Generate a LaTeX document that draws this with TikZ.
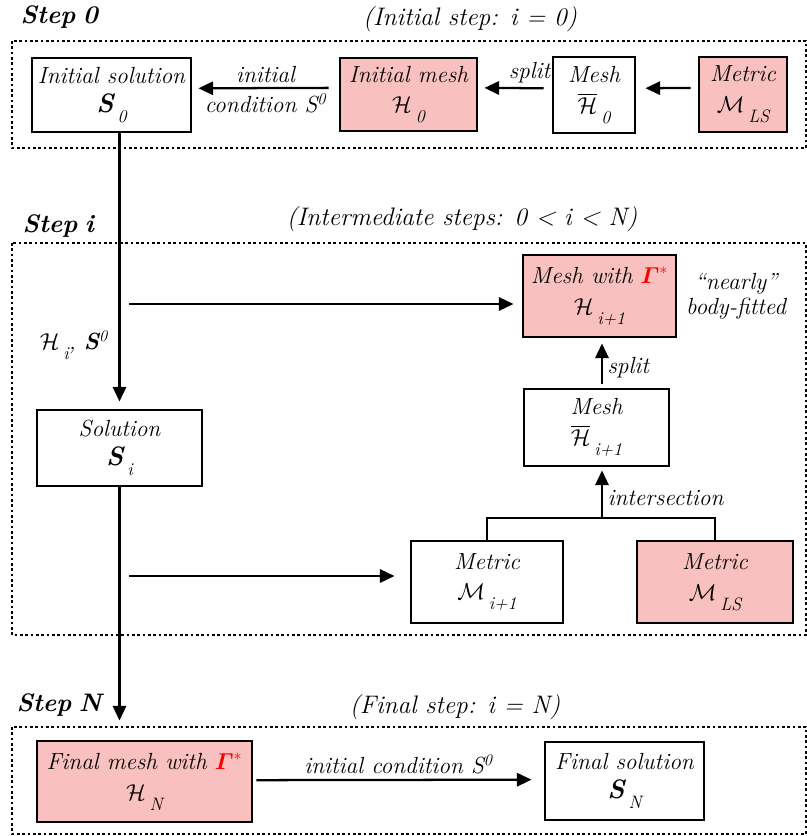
\documentclass[tikz,border=0pt]{standalone}
\usepackage{amsmath}
\usetikzlibrary{arrows.meta}

\definecolor{meshpink}{RGB}{248,192,190}
\newdimen\px \px=0.75pt
\newcommand\low[1]{\,\raisebox{-1ex}{\fontsize{13.5}{14}\selectfont #1}}
\newcommand\bigS{{\fontsize{20}{20}\selectfont\bfseries S}}

\begin{document}
\begin{tikzpicture}[x = 0.75pt, y = -0.75pt,
  box/.style = {draw = black, line width = 2.2pt, fill = white, align = center, inner sep = 0pt, font = \itshape\fontsize{17.5}{19}\selectfont},
  pinkbox/.style = {box, fill = meshpink},
  arr/.style = {line width = 1.7pt, -{Triangle[length = 11pt, width = 10pt]}},
  wire/.style = {line width = 1.5pt},
  frame/.style = {line width = 2pt, dash pattern = on 2pt off 2pt},
  steptitle/.style = {font = \itshape\fontsize{19}{21}\selectfont},
  stepname/.style = {anchor = west, font = \bfseries\itshape\fontsize{19}{21}\selectfont},
  lbl/.style = {font = \itshape\fontsize{17.5}{19}\selectfont}]

\useasboundingbox (0, 0) rectangle (807, 836);

\node[stepname] (name0) at (16, 17) {Step\hspace{0.3em}0};
\node[steptitle] (title0) at (470, 19) {(Initial step: i = 0)};
\node[stepname] (namei) at (18, 226) {Step\hspace{0.3em}i};
\node[steptitle] (titlei) at (462, 219) {(Intermediate steps: 0 < i < N)};
\node[stepname] (nameN) at (12, 705) {Step\hspace{0.3em}N};
\node[steptitle] (titleN) at (455, 707) {(Final step: i = N)};

\draw[frame] (12, 41)  rectangle (806, 148);
\draw[frame] (12, 243) rectangle (806, 635);
\draw[frame] (12, 727) rectangle (806, 834);

\node[box, minimum width = 159\px, minimum height = 74\px] (isol) at (111.5, 95) {Initial solution\\[3pt]\bigS\low{0}};
\node[pinkbox, minimum width = 137\px, minimum height = 73\px] (imesh) at (408.5, 94.5) {Initial mesh\\[4pt]$\mathcal{H}$\low{0}};
\node[box, minimum width = 82\px, minimum height = 76\px] (mesh0) at (594, 95) {Mesh\\[4pt]$\overline{\mathcal{H}}$\low{0}};
\node[pinkbox, minimum width = 88\px, minimum height = 75\px] (metLS0) at (743, 94.5) {Metric\\[4pt]$\mathcal{M}$\low{LS}};

\node[box, minimum width = 165\px, minimum height = 76\px] (sol) at (119.5, 448) {Solution\\[3pt]\bigS\low{i}};
\node[pinkbox, minimum width = 153\px, minimum height = 82\px] (gmesh) at (599.5, 296) {Mesh with {\color{red}$\boldsymbol{\varGamma}^{*}$}\\[4pt]$\mathcal{H}$\low{i+1}};
\node[box, minimum width = 145\px, minimum height = 77\px] (mesh1) at (596.5, 427.5) {Mesh\\[4pt]$\overline{\mathcal{H}}$\low{i+1}};
\node[box, minimum width = 152\px, minimum height = 82\px] (metI) at (487, 582) {Metric\\[4pt]$\mathcal{M}$\low{i+1}};
\node[pinkbox, minimum width = 156\px, minimum height = 82\px] (metLS) at (715, 582) {Metric\\[4pt]$\mathcal{M}$\low{LS}};
\node[lbl, align = center, right = 4\px] (nearly) at (gmesh.east) {``nearly''\\body-fitted};

\node[pinkbox, minimum width = 215\px, minimum height = 81\px] (fmesh) at (144.5, 781.5) {Final mesh with {\color{red}$\boldsymbol{\varGamma}^{*}$}\\[4pt]$\mathcal{H}$\low{N}};
\node[box, minimum width = 159\px, minimum height = 78\px] (fsol) at (624.5, 781) {Final solution\\[3pt]\bigS\low{N}};

\coordinate (hs1) at (129, 304);
\coordinate (hs2) at (129, 576);
\coordinate (jn) at (602, 518);

\draw[arr, shorten <= 10\px, shorten >= 6\px] ([yshift = 5pt]imesh.west) -- ([yshift = 5pt]isol.east)
  node[midway, above, lbl] {initial}
  node[midway, below, lbl] {condition S\textsuperscript{0}};
\draw[arr, shorten <= 8\px, shorten >= 6\px] ([yshift = 5pt]mesh0.west) -- ([yshift = 5pt]imesh.east)
  node[pos = 0.3, above, lbl] {split};
\draw[arr, shorten <= 7\px, shorten >= 9\px] ([yshift = 5pt]metLS0.west) -- ([yshift = 5pt]mesh0.east);

\draw[arr, shorten >= 7\px] (sol.north |- isol.south) -- (sol.north)
  node[pos = 0.77, left = 6\px, lbl] {$\mathcal{H}$\low{i}, {\bfseries S}\textsuperscript{0}};
\draw[arr, shorten >= 8\px] (hs1) -- (hs1 -| gmesh.west);
\draw[arr, shorten >= 15\px] (hs2) -- (hs2 -| metI.west);

\draw[wire] (metI.north) |- (jn) -| (metLS.north);
\draw[arr, shorten >= 3\px] (jn) -- (jn |- mesh1.south)
  node[pos = 0.4, right, lbl] {intersection};
\draw[arr, shorten <= 4\px, shorten >= 5\px] (jn |- mesh1.north) -- (jn |- gmesh.south)
  node[pos = 0.4, right, lbl] {split};

\draw[arr, shorten >= 19\px] (sol.south) -- (sol.south |- fmesh.north);
\draw[arr, shorten <= 3\px, shorten >= 12\px] ([yshift = 1pt]fmesh.east) -- ([yshift = 1pt]fsol.west)
  node[midway, above, lbl] {initial condition S\textsuperscript{0}};

\end{tikzpicture}
\end{document}
